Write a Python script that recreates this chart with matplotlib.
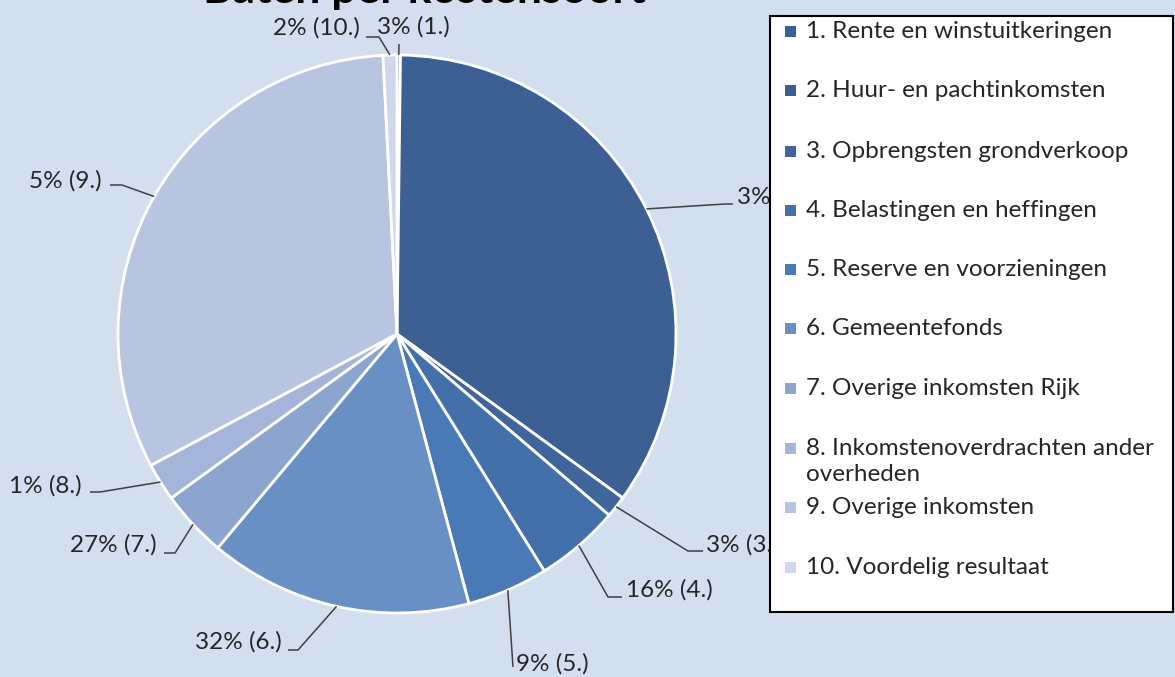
import matplotlib
matplotlib.use("Agg")
import matplotlib.pyplot as plt
import numpy as np
from matplotlib.patches import Rectangle

# ---------------- data ----------------
categories = [
    "1. Rente en winstuitkeringen",
    "2. Huur- en pachtinkomsten",
    "3. Opbrengsten grondverkoop",
    "4. Belastingen en heffingen",
    "5. Reserve en voorzieningen",
    "6. Gemeentefonds",
    "7. Overige inkomsten Rijk",
    "8. Inkomstenoverdrachten ander\noverheden",
    "9. Overige inkomsten",
    "10. Voordelig resultaat",
]
shares = [0.2, 34.8, 1.25, 4.9, 4.7, 15.25, 3.9, 2.2, 32.0, 0.8]
label_pcts = [3, 3, 3, 16, 9, 32, 27, 1, 5, 2]
label_nums = ["1.", "2.", "3.", "4.", "5.", "6.", "7.", "8.", "9.", "10."]
colors = ["#3b5f8f", "#3c6093", "#3f659c", "#4470aa", "#4a7ab6", "#6890c5",
          "#8ca5cf", "#a4b5d9", "#b8c5e0", "#cfd8eb"]
title = "Baten per kostensoort"

# ---------------- layout ----------------
W, H = 1175, 677
BG = "#d3dfef"
FONT = "Lato"
FS = 17.5

fig = plt.figure(figsize=(W / 100, H / 100), dpi=100, facecolor=BG)
ax = fig.add_axes([0, 0, 1, 1])
ax.set_facecolor(BG)

cx, cy, R = 397, H - 334, 279

wedges, _ = ax.pie(shares, colors=colors, startangle=90, counterclock=False,
                   center=(cx, cy), radius=R, frame=True,
                   wedgeprops=dict(edgecolor="white", linewidth=2))
ax.set_xlim(0, W)
ax.set_ylim(0, H)
ax.set_aspect("equal")
ax.axis("off")

# label layout in pixel coords (x, y from top): elbow, end, text pos, ha
label_layout = [
    ((399, 44), (399, 44), (413, 27), "center"),
    ((725, 204), (733, 204), (737, 197), "left"),
    ((688, 551), (703, 551), (706, 545), "left"),
    ((608, 597), (622, 597), (626, 590), "left"),
    ((513, 667), (513, 667), (516, 664), "left"),
    ((298, 650), (288, 650), (282, 642), "right"),
    ((175, 553), (164, 553), (157, 545), "right"),
    ((100, 492), (90, 492), (82, 486), "right"),
    ((122, 185), (110, 185), (102, 181), "right"),
    ((379, 37), (366, 37), (360, 28), "right"),
]

for w, pct, num, (elb, end, tpos, ha) in zip(wedges, label_pcts, label_nums, label_layout):
    ang = np.deg2rad((w.theta1 + w.theta2) / 2)
    ax_, ay_ = cx + R * np.cos(ang), cy + R * np.sin(ang)
    xs = [ax_, elb[0], end[0]]
    ys = [ay_, H - elb[1], H - end[1]]
    ax.plot(xs, ys, color="#404040", lw=1.1, solid_capstyle="butt")
    ax.text(tpos[0], H - tpos[1], f"{pct}% ({num})", ha=ha, va="center",
            fontsize=FS, family=FONT, color="#262626")

# title (cut off at top, as in the reference)
fig.text(424 / W, 1 - 3 / H, title, ha="center", va="baseline",
         fontsize=32, fontweight="bold", family=FONT, color="black")

# ---------------- legend ----------------
lx0, ly0, lx1, ly1 = 770, 16, 1173, 612
fig.patches.append(Rectangle((lx0 / W, 1 - ly1 / H), (lx1 - lx0) / W, (ly1 - ly0) / H,
                             transform=fig.transFigure, facecolor="white",
                             edgecolor="black", lw=1.5, zorder=5))
row_y = [31, 90, 151, 210, 269, 328, 388, 448, 507, 567]
line_gap = 26
for cat, col, ry in zip(categories, colors, row_y):
    fig.patches.append(Rectangle((785 / W, 1 - (ry + 6) / H), 11 / W, 11 / H,
                                 transform=fig.transFigure, facecolor=col,
                                 edgecolor="none", zorder=6))
    for k, line in enumerate(cat.split("\n")):
        fig.text(806 / W, 1 - (ry + 7 + k * line_gap) / H, line, ha="left",
                 va="baseline", fontsize=FS, family=FONT, color="#262626",
                 zorder=7)

fig.savefig("out.png", dpi=100, facecolor=BG)
